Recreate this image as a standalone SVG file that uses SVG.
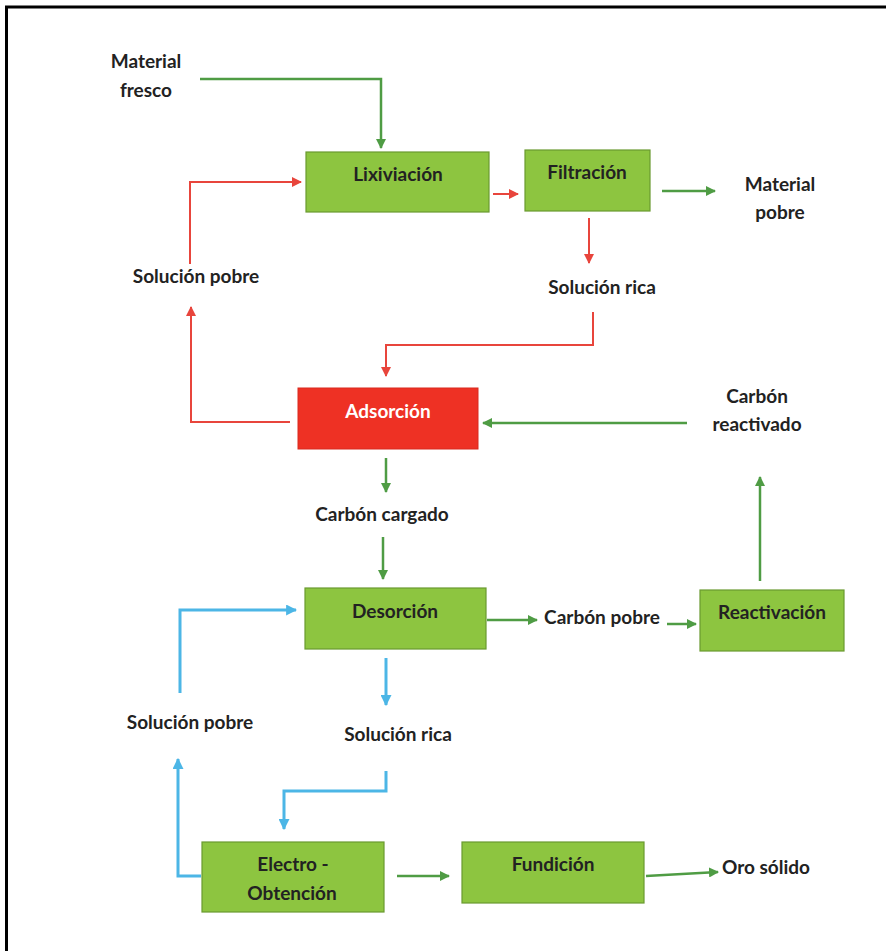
<svg xmlns="http://www.w3.org/2000/svg" width="886" height="951" viewBox="0 0 886 951">
<style>
  .lbl { font-family: Lato, "Open Sans", "Liberation Sans", sans-serif; font-weight: bold; font-size: 19px; fill: #222222; text-anchor: middle; }
  .wlbl { font-family: Lato, "Open Sans", "Liberation Sans", sans-serif; font-weight: bold; font-size: 19px; fill: #ffffff; text-anchor: middle; }
  .gbox { fill: #8DC540; stroke: #6A9A30; stroke-width: 1.2; }
  .rbox { fill: #EE3124; stroke: #D92A1E; stroke-width: 1; }
  .g { fill: none; stroke: #4F9C44; stroke-width: 2.5; marker-end: url(#ag); }
  .r { fill: none; stroke: #E8453C; stroke-width: 2; marker-end: url(#ar); }
  .rn { fill: none; stroke: #E8453C; stroke-width: 2; }
  .b { fill: none; stroke: #4CB6E6; stroke-width: 3; marker-end: url(#ab); }
  .bn { fill: none; stroke: #4CB6E6; stroke-width: 3; }
</style>
<defs>
  <marker id="ag" viewBox="0 0 10 10" refX="9" refY="5" markerWidth="10" markerHeight="10" markerUnits="userSpaceOnUse" orient="auto">
    <path d="M0,0 L10,5 L0,10 z" fill="#4F9C44"/>
  </marker>
  <marker id="ar" viewBox="0 0 10 10" refX="9" refY="5" markerWidth="10" markerHeight="10" markerUnits="userSpaceOnUse" orient="auto">
    <path d="M0,0 L10,5 L0,10 z" fill="#E8453C"/>
  </marker>
  <marker id="ab" viewBox="0 0 10 10" refX="9" refY="5" markerWidth="11" markerHeight="11" markerUnits="userSpaceOnUse" orient="auto">
    <path d="M0,0 L10,5 L0,10 z" fill="#4CB6E6"/>
  </marker>
</defs>
<rect width="886" height="951" fill="#ffffff"/>
<path d="M6.5,951 V7 H886" fill="none" stroke="#000000" stroke-width="3"/>

<g id="connectors">
  <polyline class="g" points="200,79 381,79 381,148"/>
  <polyline class="r" points="190,264 190,182 301,182"/>
  <line class="r" x1="493" y1="194" x2="518" y2="194"/>
  <line class="g" x1="662" y1="191" x2="715" y2="191"/>
  <line class="r" x1="589" y1="218" x2="589" y2="263"/>
  <polyline class="r" points="593,312 593,345 386,345 386,376"/>
  <polyline class="r" points="290,422 191,422 191,307"/>
  <line class="g" x1="687" y1="423" x2="483" y2="423"/>
  <line class="g" x1="760" y1="581" x2="760" y2="477"/>
  <line class="g" x1="386" y1="458" x2="386" y2="492"/>
  <line class="g" x1="383" y1="537" x2="383" y2="579"/>
  <line class="g" x1="487" y1="620" x2="537" y2="620"/>
  <line class="g" x1="667" y1="624" x2="696" y2="624"/>
  <polyline class="b" points="180,693 180,610 296,610"/>
  <line class="b" x1="386" y1="658" x2="386" y2="705"/>
  <polyline class="b" points="386,771 386,791 284,791 284,829"/>
  <polyline class="b" points="201,876 178,876 178,759"/>
  <line class="g" x1="397" y1="876" x2="449" y2="876"/>
  <line class="g" x1="646" y1="876" x2="718" y2="872"/>
</g>

<g id="lixiviacion">
  <rect class="gbox" x="306" y="152" width="183" height="60"/>
  <text class="lbl" x="398" y="181">Lixiviación</text>
</g>
<g id="filtracion">
  <rect class="gbox" x="525" y="150" width="125" height="61"/>
  <text class="lbl" x="587" y="179">Filtración</text>
</g>
<g id="adsorcion">
  <rect class="rbox" x="298" y="388" width="180" height="61"/>
  <text class="wlbl" x="388" y="418">Adsorción</text>
</g>
<g id="desorcion">
  <rect class="gbox" x="305" y="588" width="181" height="61"/>
  <text class="lbl" x="395" y="618">Desorción</text>
</g>
<g id="reactivacion">
  <rect class="gbox" x="700" y="590" width="144" height="61"/>
  <text class="lbl" x="772" y="619">Reactivación</text>
</g>
<g id="electro-obtencion">
  <rect class="gbox" x="202" y="842" width="182" height="70"/>
  <text class="lbl" x="293" y="871">Electro -</text>
  <text class="lbl" x="292" y="900">Obtención</text>
</g>
<g id="fundicion">
  <rect class="gbox" x="462" y="842" width="182" height="61"/>
  <text class="lbl" x="553" y="871">Fundición</text>
</g>

<g id="material-fresco">
  <text class="lbl" x="146" y="68">Material</text>
  <text class="lbl" x="146" y="97">fresco</text>
</g>
<g id="material-pobre">
  <text class="lbl" x="780" y="191">Material</text>
  <text class="lbl" x="780" y="219">pobre</text>
</g>
<g id="solucion-pobre-1">
  <text class="lbl" x="196" y="283">Solución pobre</text>
</g>
<g id="solucion-rica-1">
  <text class="lbl" x="602" y="294">Solución rica</text>
</g>
<g id="carbon-reactivado">
  <text class="lbl" x="757" y="403">Carbón</text>
  <text class="lbl" x="757" y="431">reactivado</text>
</g>
<g id="carbon-cargado">
  <text class="lbl" x="382" y="521">Carbón cargado</text>
</g>
<g id="carbon-pobre">
  <text class="lbl" x="602" y="624">Carbón pobre</text>
</g>
<g id="solucion-pobre-2">
  <text class="lbl" x="190" y="729">Solución pobre</text>
</g>
<g id="solucion-rica-2">
  <text class="lbl" x="398" y="741">Solución rica</text>
</g>
<g id="oro-solido">
  <text class="lbl" x="766" y="874">Oro sólido</text>
</g>
</svg>
